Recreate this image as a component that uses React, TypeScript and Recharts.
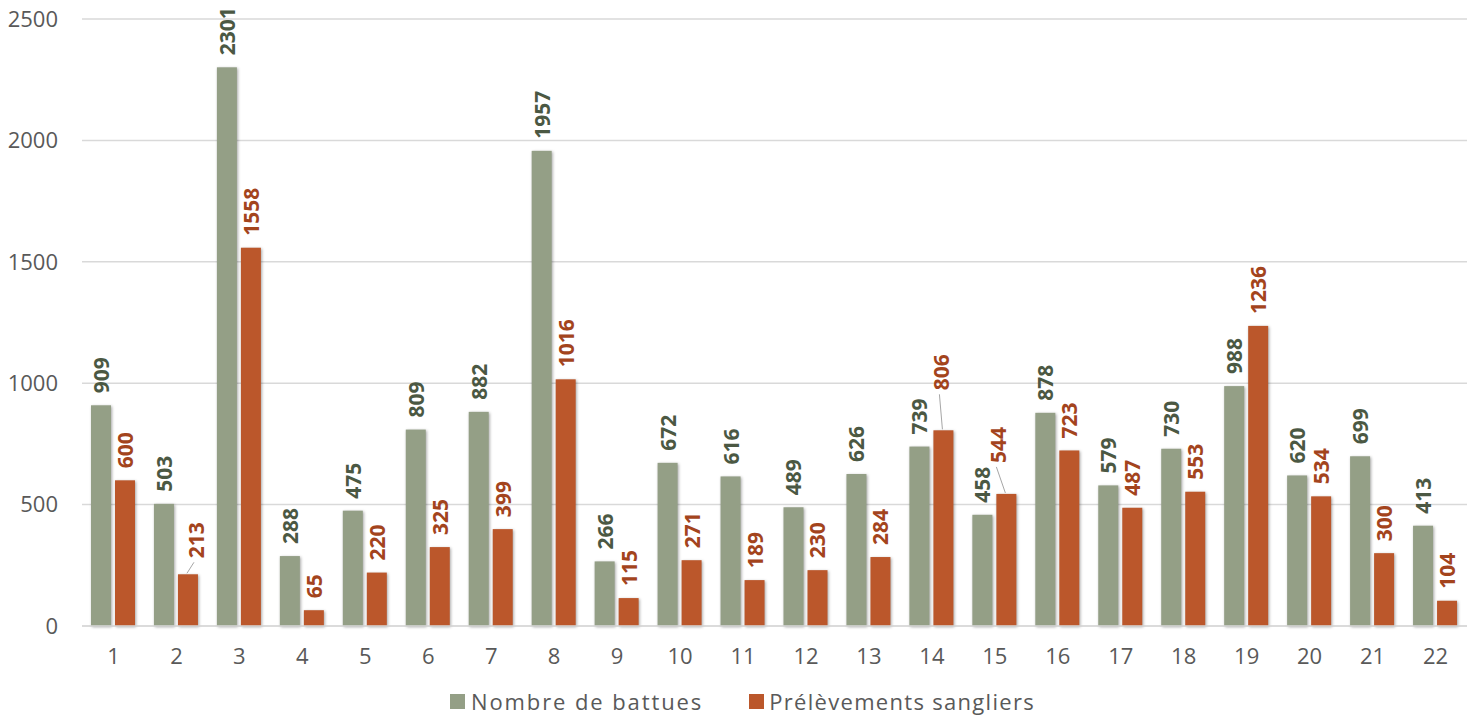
import React from 'react';
import { BarChart, Bar, XAxis, YAxis, CartesianGrid, LabelList } from 'recharts';

const categories = ['1','2','3','4','5','6','7','8','9','10','11','12','13','14','15','16','17','18','19','20','21','22'];
const battues = [909,503,2301,288,475,809,882,1957,266,672,616,489,626,739,458,878,579,730,988,620,699,413];
const prelevements = [600,213,1558,65,220,325,399,1016,115,271,189,230,284,806,544,723,487,553,1236,534,300,104];
const yTicks = [0,500,1000,1500,2000,2500];

const GREEN = '#949f86';
const ORANGE = '#bb572b';
const GREEN_LABEL = '#4b5843';
const ORANGE_LABEL = '#a3441d';
const AXIS_TEXT = '#595959';
const FONT = '"Open Sans", sans-serif';

// label displacement (dx, extra lift) for crowded labels with leader lines
const orangeLabelShift: Record<number, [number, number]> = {
  1: [8, 4],
  13: [-2, 28],
  14: [-8, 19],
};

const data = categories.map((c, i) => ({ name: c, battues: battues[i], prelevements: prelevements[i] }));

const GAP = 12;

const makeLabel = (color: string, shifts: Record<number, [number, number]>) => (props: any) => {
  const { x, y, width, value, index } = props;
  const cx = Number(x) + Number(width) / 2;
  const top = Number(y);
  const s = shifts[index];
  const dx = s ? s[0] : 0;
  const lift = s ? s[1] : 0;
  const lx = cx + dx;
  const ly = top - GAP - lift;
  return (
    <g>
      {s ? (
        <line x1={cx - 1} y1={top - 1} x2={lx - 2} y2={ly + 4} stroke="#a6a6a6" strokeWidth={1} />
      ) : null}
      <text
        x={lx}
        y={ly}
        transform={`rotate(-90 ${lx} ${ly})`}
        textAnchor="start"
        dominantBaseline="central"
        fill={color}
        fontFamily={FONT}
        fontWeight={700}
        fontSize={21}
      >
        {value}
      </text>
    </g>
  );
};

const ShadowRect = (props: any) => {
  const { x, y, width, height, fill } = props;
  if (!height || height <= 0) return null;
  return (
    <rect
      x={x}
      y={y}
      width={width}
      height={height}
      fill={fill}
      style={{ filter: 'drop-shadow(1.5px 1.5px 1.5px rgba(0,0,0,0.35))' }}
    />
  );
};

const LegendBox = () => (
  <div
    style={{
      position: 'absolute',
      left: 0,
      top: 686,
      width: 1471,
      display: 'flex',
      justifyContent: 'center',
      alignItems: 'center',
      fontFamily: FONT,
      fontSize: 22,
      color: AXIS_TEXT,
      lineHeight: '30px',
    }}
  >
    <div style={{ display: 'flex', alignItems: 'center', marginRight: 46, marginLeft: 14, letterSpacing: 1.9 }}>
      <span style={{ width: 15, height: 15, background: GREEN, display: 'inline-block', marginRight: 6 }} />
      <span>Nombre de battues</span>
    </div>
    <div style={{ display: 'flex', alignItems: 'center', letterSpacing: 1.3 }}>
      <span style={{ width: 15, height: 15, background: ORANGE, display: 'inline-block', marginRight: 5 }} />
      <span>Prélèvements sangliers</span>
    </div>
  </div>
);

export default function App() {
  return (
    <div style={{ position: 'absolute', left: 0, top: 0, width: 1471, height: 719, background: '#fff' }}>
      <BarChart
        width={1471}
        height={719}
        data={data}
        margin={{ top: 19, right: 4, bottom: 51, left: 0 }}
        barGap={4}
      >
        <CartesianGrid vertical={false} stroke="#d9d9d9" strokeWidth={1.5} />
        <XAxis
          dataKey="name"
          axisLine={{ stroke: '#d9d9d9', strokeWidth: 1.5 }}
          tickLine={false}
          tickSize={0}
          tickMargin={22}
          height={42}
          interval={0}
          tick={{ fill: AXIS_TEXT, fontSize: 22, fontFamily: FONT }}
        />
        <YAxis
          domain={[0, 2500]}
          ticks={yTicks}
          axisLine={false}
          tickLine={false}
          tickSize={0}
          tickMargin={24}
          width={82}
          tick={{ fill: AXIS_TEXT, fontSize: 22, fontFamily: FONT }}
        />
        <Bar dataKey="battues" fill={GREEN} barSize={20} isAnimationActive={false} shape={<ShadowRect />}>
          <LabelList dataKey="battues" content={makeLabel(GREEN_LABEL, {})} />
        </Bar>
        <Bar dataKey="prelevements" fill={ORANGE} barSize={20} isAnimationActive={false} shape={<ShadowRect />}>
          <LabelList dataKey="prelevements" content={makeLabel(ORANGE_LABEL, orangeLabelShift)} />
        </Bar>
      </BarChart>
      <LegendBox />
    </div>
  );
}
